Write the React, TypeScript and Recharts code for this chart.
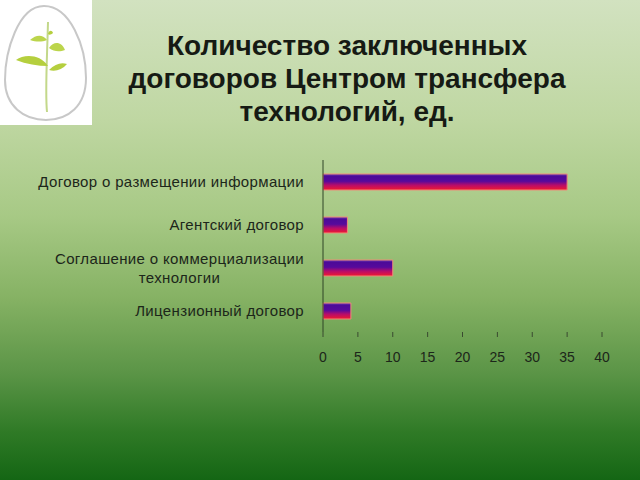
import React from "react";
import { BarChart, Bar, XAxis, YAxis } from "recharts";

const categories = [
  "Договор о размещении информации",
  "Агентский договор",
  "Соглашение о коммерциализации\nтехнологии",
  "Лицензионный договор",
];
const contractCounts = [35, 3.5, 10, 4];
const xTicks = [0, 5, 10, 15, 20, 25, 30, 35, 40];

const titleLines = ["Количество заключенных", "договоров Центром трансфера", "технологий, ед."];

const chartData = categories.map((name, i) => ({ name, value: contractCounts[i] }));

const LABEL_FONT = "15px 'Liberation Sans', Arial, sans-serif";
const LABEL_SPACING = 0.35;

function measure(text: string) {
  const ctx = document.createElement("canvas").getContext("2d");
  if (!ctx) return text.length * 8.5;
  ctx.font = LABEL_FONT;
  return ctx.measureText(text).width + text.length * LABEL_SPACING;
}

function CategoryTick(props: any) {
  const { x, y, payload } = props;
  const lines = String(payload.value).split("\n");
  const style = { font: LABEL_FONT, fill: "#1c261a", letterSpacing: LABEL_SPACING };
  if (lines.length === 1) {
    return (
      <text x={x} y={y} dy="0.35em" textAnchor="end" style={style}>
        {lines[0]}
      </text>
    );
  }
  const w = measure(lines[0]);
  return (
    <g>
      <text x={x} y={y - 9} dy="0.35em" textAnchor="end" style={style}>
        {lines[0]}
      </text>
      <text x={x - w / 2} y={y + 10} dy="0.35em" textAnchor="middle" style={style}>
        {lines[1]}
      </text>
    </g>
  );
}

function Logo() {
  return (
    <svg width={92} height={125} style={{ position: "absolute", left: 0, top: 0 }}>
      <rect width={92} height={125} fill="#ffffff" />
      <path
        d="M44 6 C18 6 5 52 5 80 C5 106 24 120 46 120 C68 120 86 106 86 78 C86 46 70 6 44 6 Z"
        fill="none"
        stroke="#c8c8c8"
        strokeWidth={2}
      />
      <path d="M47 112 C45 92 47 62 48 22" fill="none" stroke="#c3d88a" strokeWidth={2} />
      <path d="M48 66 C40 54 24 54 16 60 C26 64 38 66 48 66 Z" fill="#b5cf3e" />
      <path d="M49 70 C55 64 61 62 67 64 C62 70 55 72 49 70 Z" fill="#b5cf3e" />
      <path d="M49 48 C54 40 62 42 65 50 C60 52 54 52 49 48 Z" fill="#bcd54c" />
      <path d="M47 40 C42 34 36 35 30 40 C36 42 42 42 47 40 Z" fill="#bcd54c" />
      <path d="M48 34 C49 30 52 30 53 33 C51 35 49 35 48 34 Z" fill="#b5cf3e" />
    </svg>
  );
}

export default function App() {
  return (
    <div
      style={{
        position: "absolute",
        left: 0,
        top: 0,
        width: 640,
        height: 480,
        overflow: "hidden",
        background:
          "linear-gradient(180deg, #d2e2c0 0%, #bfd7a2 25%, #a7c985 45%, #86b264 62%, #5a9446 78%, #2f7a26 90%, #146614 100%)",
      }}
    >
      <svg width={0} height={0} style={{ position: "absolute" }}>
        <defs>
          <linearGradient id="barGrad" x1="0" y1="0" x2="0" y2="1">
            <stop offset="0%" stopColor="#6a3cb0" />
            <stop offset="15%" stopColor="#4c0a98" />
            <stop offset="45%" stopColor="#560a9c" />
            <stop offset="70%" stopColor="#b80c6a" />
            <stop offset="100%" stopColor="#f01a2e" />
          </linearGradient>
        </defs>
      </svg>
      <Logo />
      <div
        style={{
          position: "absolute",
          left: 100,
          width: 494,
          top: 29,
          textAlign: "center",
          fontFamily: "'Liberation Sans', Arial, sans-serif",
          fontWeight: "bold",
          fontSize: 28,
          lineHeight: "33px",
          color: "#161a14",
        }}
      >
        {titleLines.map((t) => (
          <div key={t}>{t}</div>
        ))}
      </div>
      <div style={{ position: "absolute", left: 0, top: 0 }}>
        <BarChart
          width={640}
          height={480}
          data={chartData}
          layout="vertical"
          margin={{ top: 160, right: 38, bottom: 118, left: 8 }}
          barSize={16}
        >
          <XAxis
            type="number"
            domain={[0, 40]}
            ticks={xTicks}
            height={30}
            axisLine={false}
            tickSize={5}
            tickMargin={15}
            tickLine={{ stroke: "#3a4a30" }}
            tick={{ fill: "#1c261a", fontSize: 14, fontFamily: "'Liberation Sans', Arial, sans-serif" }}
          />
          <YAxis
            type="category"
            dataKey="name"
            width={315}
            axisLine={{ stroke: "#2e4426", strokeWidth: 1 }}
            tickLine={false}
            tickMargin={13}
            tick={<CategoryTick />}
            interval={0}
          />
          <Bar
            dataKey="value"
            fill="url(#barGrad)"
            stroke="#ee8a78"
            strokeWidth={1}
            isAnimationActive={false}
          />
        </BarChart>
      </div>
    </div>
  );
}
